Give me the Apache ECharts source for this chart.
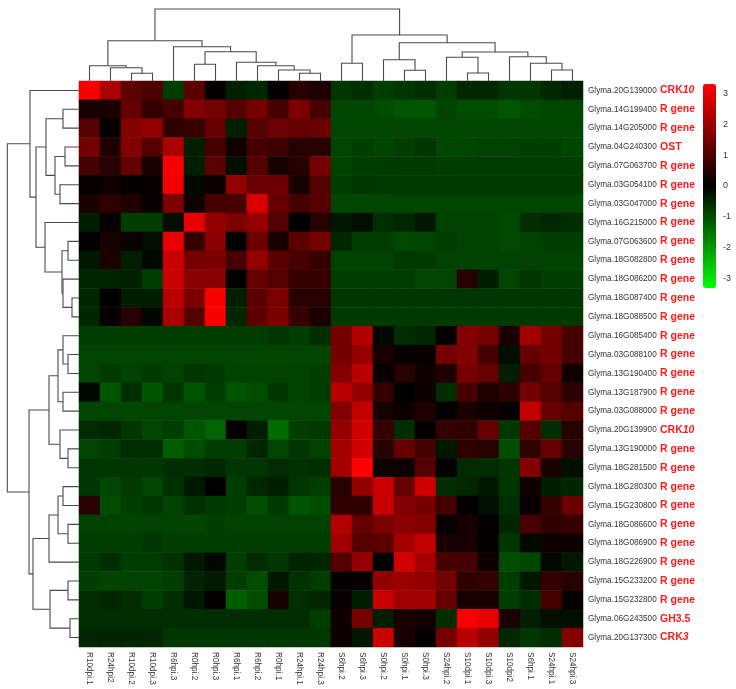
<!DOCTYPE html>
<html>
<head>
<meta charset="utf-8">
<script src="https://cdn.jsdelivr.net/npm/echarts@6/dist/echarts.min.js"></script>
<style>html,body{margin:0;padding:0;background:#fff;}#c{width:736px;height:689px;}</style>
</head>
<body>
<div id="c"></div>
<script>
// ---- data ----
const columns = ['R10dpi.1','R24hpi2','R10dpi.2','R10dpi.3','R6hpi.3','R0hpi.2','R0hpi.3','R6hpi.1','R6hpi.2','R0hpi.1','R24hpi.1','R24hpi.3','S6hpi.2','S6hpi.3','S0hpi.2','S0hpi.1','S0hpi.3','S24hpi.2','S10dpi.1','S10dpi.3','S10dpi2','S6hpi.1','S24hpi.1','S24hpi.3'];
const genes = ['Glyma.20G139000','Glyma.14G199400','Glyma.14G205000','Glyma.04G240300','Glyma.07G063700','Glyma.03G054100','Glyma.03G047000','Glyma.16G215000','Glyma.07G063600','Glyma.18G082800','Glyma.18G086200','Glyma.18G087400','Glyma.18G088500','Glyma.16G085400','Glyma.03G088100','Glyma.13G190400','Glyma.13G187900','Glyma.03G088000','Glyma.20G139900','Glyma.13G190000','Glyma.18G281500','Glyma.18G280300','Glyma.15G230800','Glyma.18G086600','Glyma.18G086900','Glyma.18G226900','Glyma.15G233200','Glyma.15G232800','Glyma.06G243500','Glyma.20G137300'];
const notes = ['CRK','R gene','R gene','OST','R gene','R gene','R gene','R gene','R gene','R gene','R gene','R gene','R gene','R gene','R gene','R gene','R gene','R gene','CRK','R gene','R gene','R gene','R gene','R gene','R gene','R gene','R gene','R gene','GH3.5','CRK'];
const notesItalic = ['10','','','','','','','','','','','','','','','','','','10','','','','','','','','','','','3'];

const values = [
 [3.2,2.2,1.2,1.0,-0.8,1.2,0.05,-0.4,-0.5,0.05,0.5,0.4,-0.7,-0.6,-0.8,-0.7,-0.6,-0.8,-0.5,-0.5,-0.7,-0.7,-0.5,-0.4],
 [0.3,0.35,1.3,0.7,0.9,1.7,1.5,1.1,1.5,0.9,1.6,0.9,-0.9,-0.9,-1.0,-1.1,-1.1,-0.9,-1.0,-1.0,-1.1,-1.0,-0.9,-0.9],
 [1.1,0.1,1.7,1.9,0.6,0.7,1.3,-0.4,1.1,1.4,1.3,1.4,-0.9,-0.9,-0.9,-0.9,-0.9,-0.9,-0.9,-0.9,-0.9,-0.9,-0.9,-0.9],
 [1.5,0.4,1.7,1.1,2.2,-0.4,0.9,0.2,0.9,0.8,0.5,0.5,-0.9,-0.8,-0.9,-0.8,-0.7,-0.9,-0.9,-0.85,-0.85,-0.8,-0.8,-0.9],
 [0.9,0.5,1.3,0.3,3.2,-0.4,1.2,-0.2,1.1,0.3,0.5,1.5,-0.85,-0.8,-0.8,-0.75,-0.75,-0.8,-0.8,-0.8,-0.8,-0.8,-0.8,-0.8],
 [0.1,0.2,0.05,0.1,3.1,-0.1,0.15,1.9,1.4,1.4,0.3,1.1,-0.8,-0.7,-0.75,-0.75,-0.75,-0.75,-0.75,-0.75,-0.75,-0.75,-0.75,-0.75],
 [0.35,0.6,0.4,0.1,1.6,0.2,0.9,0.9,2.8,1.3,0.9,1.1,-0.9,-0.9,-0.9,-0.9,-0.9,-0.9,-0.9,-0.9,-0.9,-0.9,-0.9,-0.9],
 [-0.4,0.1,-0.8,-0.8,-0.2,3.0,1.9,1.6,1.9,1.1,0,0.5,-0.3,-0.2,-0.6,-0.5,-0.3,-0.85,-0.85,-0.85,-0.95,-0.6,-0.5,-0.6],
 [0.05,0.3,0.15,-0.2,3.0,0.7,1.8,0,1.4,0.35,1.2,1.5,-0.5,-0.8,-0.8,-0.95,-0.9,-0.8,-0.85,-0.85,-0.95,-0.85,-0.8,-0.8],
 [-0.3,0.35,-0.4,-0.1,2.6,1.5,1.6,0.9,1.9,1.2,0.9,0.7,-0.85,-0.85,-0.85,-0.75,-0.75,-0.85,-0.85,-0.85,-0.85,-0.85,-0.85,-0.85],
 [-0.5,-0.5,-0.4,-0.8,2.6,1.8,1.8,0,1.3,1.1,0.7,0.7,-0.8,-0.8,-0.8,-0.8,-0.9,-0.9,0.5,-0.4,-0.9,-0.7,-0.8,-0.8],
 [-0.5,0,-0.4,-0.4,2.4,1.6,3.2,-0.4,1.2,1.6,0.5,0.5,-0.7,-0.7,-0.7,-0.7,-0.7,-0.7,-0.7,-0.7,-0.7,-0.7,-0.7,-0.7],
 [-0.5,0.1,0.5,-0.1,2.2,1.1,3.2,-0.5,1.2,1.6,0.7,0.35,-0.75,-0.75,-0.75,-0.75,-0.75,-0.75,-0.75,-0.75,-0.75,-0.75,-0.75,-0.75],
 [-0.8,-0.8,-0.8,-0.8,-0.8,-0.8,-0.8,-0.8,-0.8,-0.7,-0.8,-0.6,1.5,2.3,-0.1,-0.6,-0.5,0.05,1.7,1.5,0.35,2.1,1.5,0.9],
 [-0.9,-0.9,-0.9,-0.9,-0.9,-0.9,-0.9,-0.9,-0.9,-0.9,-0.9,-0.9,1.5,1.9,0.3,0.1,0.1,1.5,1.7,0.9,-0.2,1.3,1.5,0.9],
 [-0.9,-0.75,-0.85,-0.75,-0.85,-0.7,-0.75,-0.85,-0.85,-0.85,-0.85,-0.8,1.7,2.4,0.1,0.5,0.2,0.4,1.5,1.3,-0.4,0.9,1.3,0.2],
 [-0.1,-1.1,-0.6,-1.1,-0.7,-1.1,-0.8,-1.1,-1.0,-0.7,-0.85,-0.8,2.4,1.9,0.7,0,0.2,-0.6,0.9,0.4,0.6,1.5,1.1,0.6],
 [-0.9,-0.9,-0.9,-0.9,-0.9,-0.9,-0.9,-0.9,-0.9,-0.9,-0.9,-0.9,1.7,2.5,0.3,0.15,0.4,0.05,0.35,0.2,0.05,2.5,1.3,1.1],
 [-0.55,-0.5,-0.7,-0.9,-0.8,-1.1,-1.3,0,-0.4,-1.4,-0.8,-0.75,1.9,2.7,0.7,-0.6,0.05,0.7,0.6,1.3,-0.7,1.1,-0.6,0.5],
 [-0.9,-0.8,-0.6,-0.6,-1.2,-1.0,-0.8,-0.8,-0.5,-0.9,-0.7,-0.85,2.1,2.7,0.5,1.3,0.9,-0.3,0.6,0.5,-1.0,0.6,1.3,0.5],
 [-0.7,-0.7,-0.7,-0.7,-0.6,-0.6,-0.5,-0.7,-0.7,-0.55,-0.65,-0.6,2.1,3.3,0.2,0.15,1.1,0.05,-0.55,-0.55,-0.7,1.7,0.35,-0.2],
 [-0.7,-0.9,-0.75,-0.9,-0.65,-0.3,0,-0.8,-0.5,-0.4,-0.7,-0.8,0.5,1.9,2.6,1.3,2.7,-0.6,-0.5,-0.3,-0.7,0.2,-0.4,-0.5],
 [0.5,-1.0,-0.8,-0.7,-0.85,-0.65,-0.75,-0.8,-1.0,-0.75,-1.1,-1.0,0.6,0.6,2.6,1.7,1.5,0.9,0.05,-0.2,-0.6,0.1,0.7,1.4],
 [-0.85,-0.85,-0.85,-0.85,-0.85,-0.9,-0.8,-0.85,-0.85,-0.85,-0.85,-0.85,2.3,1.3,1.6,1.8,1.7,0.1,0.3,0.05,-0.5,0.9,0.6,0.7],
 [-0.8,-0.8,-0.8,-0.7,-0.8,-0.8,-0.8,-0.8,-0.8,-0.8,-0.8,-0.8,2.1,1.1,1.2,2.1,2.5,0.3,0.3,0.05,-0.7,-0.1,0.2,0.2],
 [-0.75,-0.6,-0.8,-0.8,-0.65,-0.3,-0.1,-0.8,-0.55,-0.7,-0.45,-0.5,1.1,1.9,0,2.7,2.1,0.9,0.9,0.2,-1.0,-0.9,-0.1,-0.3],
 [-0.8,-0.9,-0.85,-0.85,-0.8,-0.45,-0.35,-0.8,-1.0,-0.3,-0.65,-0.8,0.05,0.1,1.9,2.0,1.9,1.5,0.6,0.7,-0.8,-0.3,0.7,0.5],
 [-0.6,-0.5,-0.6,-0.8,-0.6,-0.3,0.05,-1.2,-1.0,0.3,-0.6,-0.5,0.1,-0.4,2.6,2.1,2.1,1.3,0.3,0.35,-0.8,-0.6,0.9,0.1],
 [-0.6,-0.6,-0.6,-0.6,-0.6,-0.6,-0.6,-0.6,-0.6,-0.6,-0.6,-0.8,0.2,1.5,-0.4,0.35,0.25,-0.6,3.2,3.0,0.35,-0.4,-0.2,-0.2],
 [-0.5,-0.5,-0.5,-0.5,-0.7,-0.7,-0.7,-0.7,-0.7,-0.7,-0.7,-0.7,0.2,-0.3,2.6,0.3,0.05,1.5,2.4,1.9,-0.5,-0.7,-0.6,1.7]
];

// dendrograms: [mergeHeight, leftChild, rightChild], leaves are indices
const colTree = [72,
  [40.3,
    [15.3, 0, [13.3, 1, [7.7, 2, 3]]],
    [34.3, 4, [29.3, [16.7, 5, 6], [18.7, 7, [15.3, 8, [11, 9, [7.7, 10, 11]]]]]]],
  [46,
    [17.7, 12, 13],
    [38.3, [21.3, 14, [10.7, 15, 16]], [29, [23.7, 17, [8, 18, 19]], [24.3, 20, [17.7, 21, [11, 22, 23]]]]]]
];
const rowTree = [71.7,
  [49, 0, [43, [33, [16, 1, 2], [24, [14, 3, 4], [19, 5, 6]]], [34, 7, [17, [11, 8, 9], [16, 10, [7, 11, 12]]]]]],
  [50,
    [30, [21, [16, 13, [11, 14, 15]], [16, 16, 17]], [19, 18, [11, 19, 20]]],
    [46, [30, [21, [16, 21, 22], [11, 23, 24]], 25], [29, [11, 26, 27], [9, 28, 29]]]]
];
const scaleTicks = [-3, -2, -1, 0, 1, 2, 3];

// ---- build ----
function walk(node, out) {
  if (typeof node === 'number') return { pos: node, h: 0 };
  const A = walk(node[1], out), B = walk(node[2], out), h = node[0];
  out.push([A, B, h]);
  return { pos: (A.pos + B.pos) / 2, h: h };
}
const colSegs = [], rowSegs = [];
walk(colTree, colSegs); walk(rowTree, rowSegs);
const colLines = colSegs.map(([A, B, h]) => ({ coords: [[A.pos, A.h], [A.pos, h], [B.pos, h], [B.pos, B.h]] }));
const rowLines = rowSegs.map(([A, B, h]) => ({ coords: [[A.h, A.pos], [h, A.pos], [h, B.pos], [B.h, B.pos]] }));

const heat = [];
values.forEach((row, r) => row.forEach((v, c) => heat.push([c, r, v])));

const FONT = 'Liberation Sans, Arial, sans-serif';
const chart = echarts.init(document.getElementById('c'), null, { renderer: 'canvas' });
const dendroStyle = { color: '#4a4a4a', width: 1.1, opacity: 1 };
chart.setOption({
  animation: false,
  backgroundColor: '#fff',
  grid: [
    { left: 79, top: 81, width: 504, height: 566 },
    { left: 79, top: 9, width: 504, height: 72 },
    { left: 0, top: 81, width: 79, height: 566 },
    { left: 703, top: 84, width: 13, height: 204 }
  ],
  xAxis: [
    { gridIndex: 0, type: 'category', data: columns, position: 'bottom',
      axisLine: { show: false }, axisTick: { show: false }, splitLine: { show: false },
      axisLabel: { interval: 0, rotate: -90, margin: 5, fontSize: 8.2, color: '#333', fontFamily: FONT } },
    { gridIndex: 1, type: 'value', min: -0.5, max: 23.5, show: false },
    { gridIndex: 2, type: 'value', min: 0, max: 79, inverse: true, show: false },
    { gridIndex: 3, type: 'value', min: 0, max: 1, show: false }
  ],
  yAxis: [
    { gridIndex: 0, type: 'category', data: genes, inverse: true, position: 'right',
      axisLine: { show: false }, axisTick: { show: false }, splitLine: { show: false },
      axisLabel: { interval: 0, margin: 5,
        formatter: (v, i) => '{g|' + genes[i] + '}{r|' + notes[i] + '}' + (notesItalic[i] ? '{ri|' + notesItalic[i] + '}' : ''),
        rich: {
          g: { fontSize: 8.2, color: '#333', fontFamily: FONT, width: 72 },
          r: { fontSize: 10.5, color: '#ff1a1a', fontFamily: FONT, fontWeight: 'bold' },
          ri: { fontSize: 10.5, color: '#ff1a1a', fontFamily: FONT, fontWeight: 'bold', fontStyle: 'italic' }
        } } },
    { gridIndex: 1, type: 'value', min: 0, max: 72, show: false },
    { gridIndex: 2, type: 'value', min: -0.5, max: 29.5, inverse: true, show: false },
    { gridIndex: 3, type: 'value', min: -3.3, max: 3.3, position: 'right',
      axisLine: { show: false }, axisTick: { show: false }, splitLine: { show: false },
      axisLabel: { customValues: scaleTicks, margin: 7, fontSize: 9, color: '#333', fontFamily: FONT } }
  ],
  visualMap: {
    type: 'continuous', seriesIndex: 0, min: -3.3, max: 3.3, calculable: false,
    orient: 'vertical', left: 703, top: 84, itemWidth: 13, itemHeight: 204, padding: 0,
    text: null, showLabel: false,
    inRange: { color: ['#00ff00', '#000000', '#ff0000'] }
  },
  series: [
    { type: 'heatmap', xAxisIndex: 0, yAxisIndex: 0, data: heat, itemStyle: { borderWidth: 0 }, emphasis: { disabled: true } },
    { type: 'lines', coordinateSystem: 'cartesian2d', xAxisIndex: 1, yAxisIndex: 1, polyline: true, clip: false, silent: true, data: colLines, lineStyle: dendroStyle },
    { type: 'lines', coordinateSystem: 'cartesian2d', xAxisIndex: 2, yAxisIndex: 2, polyline: true, clip: false, silent: true, data: rowLines, lineStyle: dendroStyle }
  ]
});
</script>
</body>
</html>
